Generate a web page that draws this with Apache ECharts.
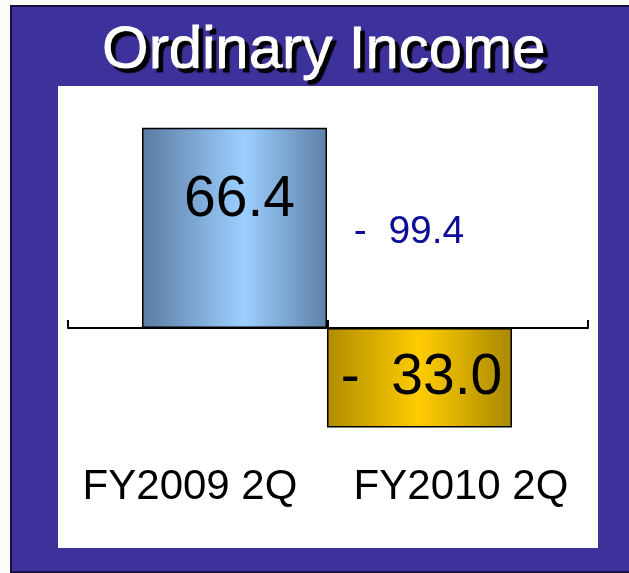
<!DOCTYPE html>
<html>
<head>
<meta charset="utf-8">
<script src="https://cdn.jsdelivr.net/npm/echarts@6/dist/echarts.min.js"></script>
<style>
  html, body { margin: 0; padding: 0; background: #fbfbf7; overflow: hidden; }
  .frame {
    position: absolute; left: 10px; top: 5px; width: 640px; height: 568px;
    box-sizing: border-box; border: 2px solid #1a1040; background: #3d319b;
  }
  .panel { position: absolute; left: 58px; top: 86px; width: 540px; height: 462px; background: #fff; }
  #chart { position: absolute; left: 0; top: 0; width: 629px; height: 573px; }
</style>
</head>
<body>
<div class="frame"></div>
<div class="panel"></div>
<div id="chart"></div>
<script>
const titleText = 'Ordinary Income'
const categories = ['FY2009 2Q', 'FY2010 2Q']
const values = [66.4, -33.0]
const changeText = '-  99.4'

const FONT = '"Liberation Sans", Arial, sans-serif'

// 縦軸は3グリッド共通
const Y_MIN = -40
const Y_MAX = 70
const gridTop = 117
const gridBottom = 124.5

const barColors = [
  new echarts.graphic.LinearGradient(0, 0, 1, 0, [
    { offset: 0, color: '#5b7ba3' },
    { offset: 0.55, color: '#9ccfff' },
    { offset: 1, color: '#5e80a8' }
  ]),
  new echarts.graphic.LinearGradient(0, 0, 1, 0, [
    { offset: 0, color: '#b08c00' },
    { offset: 0.5, color: '#ffcc00' },
    { offset: 1, color: '#a88800' }
  ])
]

function fmt(v) {
  return v < 0 ? '-  ' + Math.abs(v).toFixed(1) : v.toFixed(1)
}

const chart = echarts.init(document.getElementById('chart'))

const hiddenY = idx => ({
  type: 'value', gridIndex: idx, min: Y_MIN, max: Y_MAX, show: false
})

chart.setOption({
  backgroundColor: 'transparent',
  animation: false,
  grid: [
    // 0: ゼロ線
    { left: 68, right: 41, top: gridTop, bottom: gridBottom },
    // 1: 棒
    { left: 142, right: 117, top: gridTop, bottom: gridBottom },
    // 2: カテゴリラベル
    { left: 54.5, right: 32.5, top: gridTop, bottom: gridBottom }
  ],
  xAxis: [
    {
      type: 'category', gridIndex: 0, data: categories,
      axisLine: { onZero: true, lineStyle: { color: '#000', width: 2 } },
      axisTick: { show: true, inside: true, length: 8, lineStyle: { color: '#000', width: 2 } },
      axisLabel: { show: false }
    },
    {
      type: 'category', gridIndex: 1, data: categories, show: false
    },
    {
      type: 'category', gridIndex: 2, data: categories,
      axisLine: { show: false }, axisTick: { show: false },
      axisLabel: { interval: 0, margin: 18, color: '#000', fontSize: 42, fontFamily: FONT }
    }
  ],
  yAxis: [hiddenY(0), hiddenY(1), hiddenY(2)],
  series: [{
    type: 'bar',
    xAxisIndex: 1,
    yAxisIndex: 1,
    barWidth: '100%',
    z: 3,
    data: values.map((v, i) => ({
      value: v,
      itemStyle: { color: barColors[i], borderColor: '#000', borderWidth: 1.5 },
      label: v >= 0
        ? { position: ['50%', 72], align: 'center', verticalAlign: 'middle', offset: [5, 0] }
        : { position: 'inside', offset: [2, 1] }
    })),
    label: {
      show: true,
      color: '#000',
      fontSize: 57,
      fontFamily: FONT,
      formatter: p => fmt(p.value)
    }
  }],
  graphic: [
    {
      type: 'text', x: 324, y: 51, z: 10,
      style: {
        text: titleText, fill: '#fff', font: '60px ' + FONT,
        stroke: '#fff', lineWidth: 1.2,
        align: 'center', verticalAlign: 'middle',
        textShadowColor: '#000', textShadowOffsetX: 4, textShadowOffsetY: 4, textShadowBlur: 1
      }
    },
    {
      type: 'text', x: 409, y: 232, z: 10,
      style: {
        text: changeText, fill: '#0d0d96', font: '39px ' + FONT,
        align: 'center', verticalAlign: 'middle'
      }
    }
  ]
})
</script>
</body>
</html>
